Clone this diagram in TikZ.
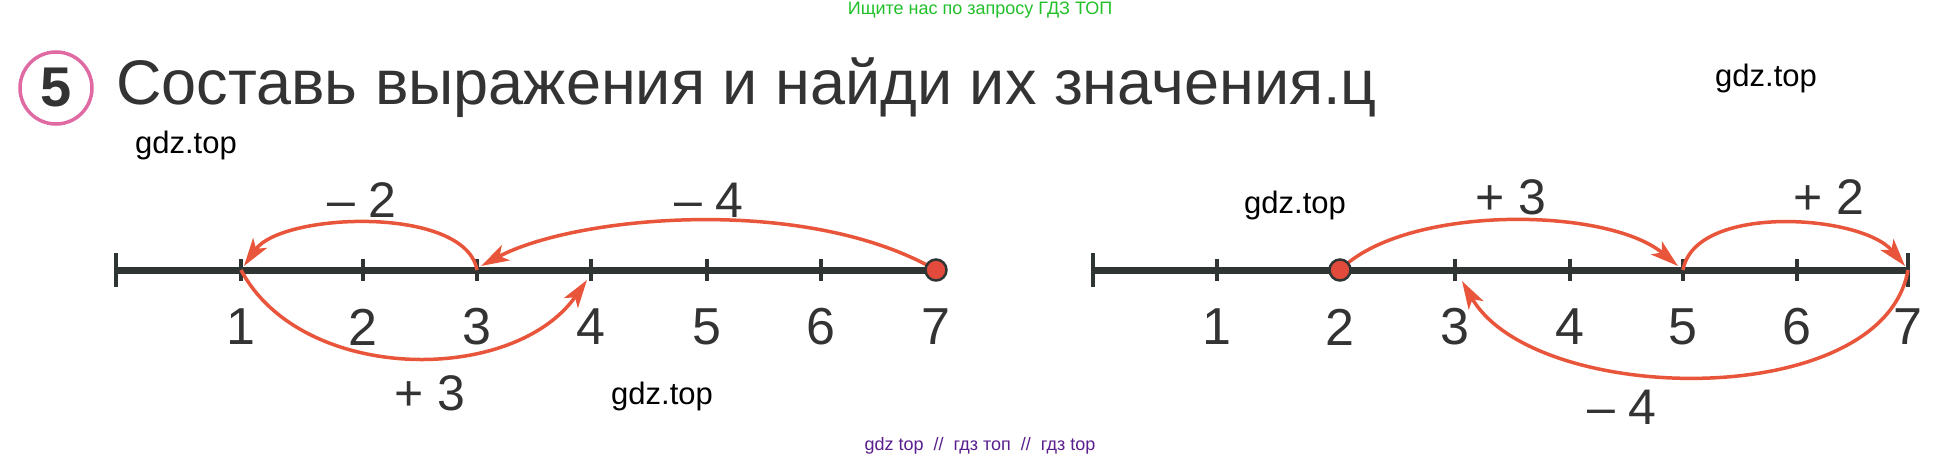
\documentclass[tikz,border=0pt]{standalone}
\usepackage{fontspec}
\setmainfont{Liberation Sans}
\usetikzlibrary{arrows.meta}
\definecolor{ink}{HTML}{333333}
\definecolor{axiscol}{HTML}{2F3533}
\definecolor{arccol}{HTML}{E8553B}
\definecolor{dotfill}{HTML}{E24A3C}
\definecolor{pinkcol}{HTML}{E06BA3}
\definecolor{wmgreen}{HTML}{22C02A}
\definecolor{wmpurple}{HTML}{5A1E8E}
\begin{document}
\begin{tikzpicture}[x=1pt,y=1pt,
  axisline/.style={draw=axiscol,line width=7pt},
  tickmark/.style={draw=axiscol,line width=3.5pt},
  endtick/.style={draw=axiscol,line width=4.5pt},
  num/.style={font=\fontsize{52}{52}\selectfont,text=ink,inner sep=0pt},
  oplabel/.style={font=\fontsize{50}{50}\selectfont,text=ink,inner sep=0pt},
  jump/.style={draw=arccol,line width=3.5pt,-{Stealth[length=28pt,width=17pt,inset=7pt]}},
  startdot/.style={circle,draw=axiscol,fill=dotfill,line width=2.5pt,minimum size=21pt,inner sep=0pt},
  wm/.style={font=\fontsize{31}{31}\selectfont,text=black,inner sep=0pt}]
\useasboundingbox[fill=white] (0,0) rectangle (1960,-463);

% header
\node[font=\fontsize{18}{18}\selectfont,text=wmgreen,inner sep=0pt] (top) at (980,-10) {Ищите нас по запросу ГДЗ ТОП};
\node[circle,draw=pinkcol,line width=3.5pt,minimum size=72pt,inner sep=0pt,
      font=\bfseries\fontsize{56}{56}\selectfont,text=ink] (five) at (56,-88) {5};
\node[anchor=base west,font=\fontsize{63}{63}\selectfont,text=ink,inner sep=0pt] (title) at (116,-104)
  {Составь выражения и найди их значения.ц};

% watermarks
\node[wm] (wm1) at (186,-145) {gdz.top};
\node[wm] (wm2) at (1766,-78) {gdz.top};
\node[wm] (wm3) at (1295,-205) {gdz.top};
\node[wm] (wm4) at (662,-396) {gdz.top};
\node[font=\fontsize{18}{18}\selectfont,text=wmpurple,inner sep=0pt] (bottom) at (980,-446)
  {gdz top \ // \ гдз топ \ // \ гдз top};

% number line points
\foreach \n/\x in {0/116,1/241,2/363,3/477,4/591,5/707,6/821,7/936}
  \coordinate (L\n) at (\x,-270);
\foreach \n/\x in {0/1093,1/1217,2/1340,3/1455,4/1570,5/1683,6/1797,7/1908}
  \coordinate (R\n) at (\x,-270);

\draw[axisline] (L0) -- (L7);
\draw[endtick] ([yshift=17pt]L0) -- ([yshift=-17pt]L0);
\foreach \n in {1,...,6}
  \draw[tickmark] ([yshift=11pt]L\n) -- ([yshift=-11pt]L\n);
\foreach \n in {1,...,7}
  \node[num] (Ln\n) at ([yshift=-57pt]L\n) {\n};

\draw[axisline] (R0) -- (R7);
\draw[endtick] ([yshift=17pt]R0) -- ([yshift=-17pt]R0);
\draw[endtick] ([yshift=17pt]R7) -- ([yshift=-17pt]R7);
\foreach \n in {1,...,6}
  \draw[tickmark] ([yshift=11pt]R\n) -- ([yshift=-11pt]R\n);
\foreach \n in {1,...,7}
  \node[num] (Rn\n) at ([yshift=-57pt]R\n) {\n};

% arrow tips
\coordinate (L1tip) at (244,-266);
\coordinate (L3tip) at (481,-266);
\coordinate (L4tip) at (587,-280);
\coordinate (R5tip) at (1678,-266);
\coordinate (R7tip) at (1905,-266);
\coordinate (R3tip) at (1462,-281);

% left jumps
\draw[jump] (L3) to[out=100,in=55,looseness=0.72] (L1tip);
\draw[jump] (L7) to[out=150,in=28,out looseness=0.85,in looseness=0.6] (L3tip);
\draw[jump] (L1) to[out=-62,in=-125,looseness=0.95] (L4tip);
\node[startdot] (Ldot) at (L7) {};

% right jumps
\draw[jump] (R2) to[out=45,in=140,looseness=0.7] (R5tip);
\draw[jump] (R5) to[out=80,in=130,looseness=0.78] (R7tip);
\draw[jump] (R7) to[out=-100,in=-60,looseness=0.83] (R3tip);
\node[startdot] (Rdot) at (R2) {};

% jump labels
\node[oplabel] (lm2) at (362,-200) {– 2};
\node[oplabel] (lm4) at (709,-200) {– 4};
\node[oplabel] (lp3) at (430,-393) {+ 3};
\node[oplabel] (rp3) at (1511,-197) {+ 3};
\node[oplabel] (rp2) at (1829,-197) {+ 2};
\node[oplabel] (rm4) at (1622,-407) {– 4};
\end{tikzpicture}
\end{document}
